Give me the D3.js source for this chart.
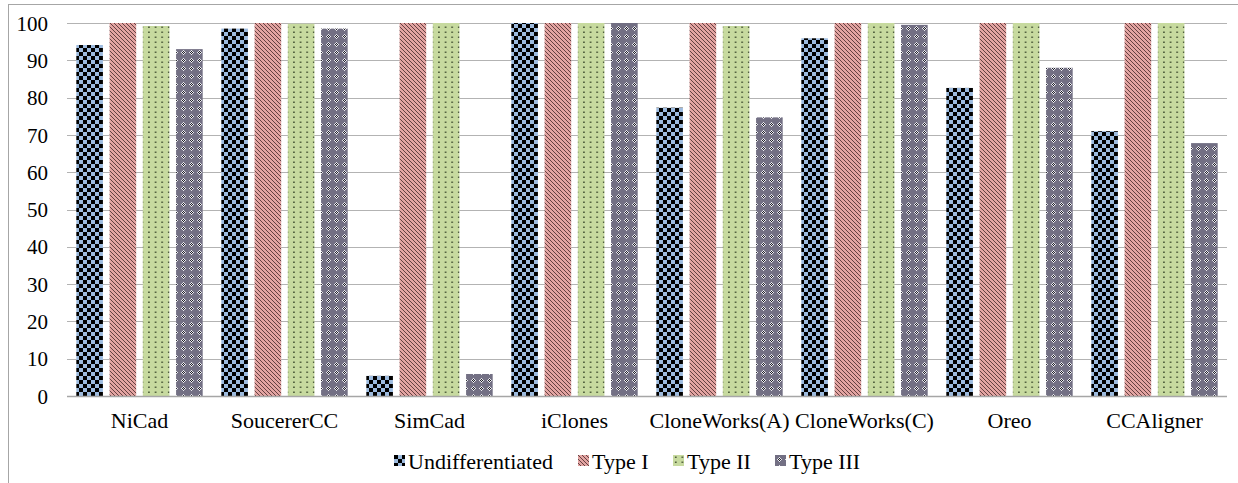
<!DOCTYPE html>
<html>
<head>
<meta charset="utf-8">
<script src="https://cdn.jsdelivr.net/npm/d3@7"></script>
<style>
  html, body { margin: 0; padding: 0; background: #fff; }
  #chart, #chart text { font-family: "Liberation Serif", "Times New Roman", Times, serif; }
  #chart text { fill: #000; }
</style>
</head>
<body>
<svg id="chart" width="1238" height="483"></svg>
<script>
// Detection rates (%) per tool and clone type
const tools = ["NiCad", "SoucererCC", "SimCad", "iClones", "CloneWorks(A)", "CloneWorks(C)", "Oreo", "CCAligner"];
const seriesNames = ["Undifferentiated", "Type I", "Type II", "Type III"];
const undifferentiated = [94.1, 98.5, 5.4, 100, 77.3, 95.9, 82.6, 71.0];
const typeI = [100, 100, 100, 100, 100, 100, 100, 100];
const typeII = [99.2, 99.8, 100, 100, 99.2, 100, 100, 100];
const typeIII = [93.0, 98.5, 5.9, 100, 74.7, 99.5, 88.0, 67.8];
const yTicks = [0, 10, 20, 30, 40, 50, 60, 70, 80, 90, 100];

const seriesValues = [undifferentiated, typeI, typeII, typeIII];
const patternIds = ["pat-undiff", "pat-type1", "pat-type2", "pat-type3"];

const svg = d3.select("#chart");
const W = 1238, H = 483;
const plot = { left: 67, right: 1227, top: 23, bottom: 396 };

// ---- fill patterns ----
const defs = svg.append("defs");

// checkerboard: black on light blue
const p0 = defs.append("pattern").attr("id", patternIds[0])
  .attr("patternUnits", "userSpaceOnUse").attr("width", 8).attr("height", 8);
p0.append("rect").attr("width", 8).attr("height", 8).attr("fill", "#9dbbdf");
p0.append("rect").attr("x", 0).attr("y", 0).attr("width", 4).attr("height", 4).attr("fill", "#000");
p0.append("rect").attr("x", 4).attr("y", 4).attr("width", 4).attr("height", 4).attr("fill", "#000");

// dark downward diagonals on rose
const p1 = defs.append("pattern").attr("id", patternIds[1])
  .attr("patternUnits", "userSpaceOnUse").attr("width", 4).attr("height", 4);
p1.append("rect").attr("width", 4).attr("height", 4).attr("fill", "#e3a4a2");
p1.append("path").attr("d", "M-1,-1 L5,5 M-1,3 L1,5 M3,-1 L5,1")
  .attr("stroke", "#3a2020").attr("stroke-width", 0.75).attr("fill", "none");

// sparse dark dots on light green
const p2 = defs.append("pattern").attr("id", patternIds[2])
  .attr("patternUnits", "userSpaceOnUse").attr("width", 6.6).attr("height", 5);
p2.append("rect").attr("width", 6.6).attr("height", 5).attr("fill", "#c7da9f");
p2.append("rect").attr("x", 2).attr("y", 1.5).attr("width", 1.5).attr("height", 1.5).attr("fill", "#3c4a2c");

// small white/black diamonds on grey-violet
const p3 = defs.append("pattern").attr("id", patternIds[3])
  .attr("patternUnits", "userSpaceOnUse").attr("width", 8).attr("height", 8);
p3.append("rect").attr("width", 8).attr("height", 8).attr("fill", "#737084");
for (let yy = 0; yy < 8; yy++) {
  for (let xx = 0; xx < 8; xx++) {
    const d = Math.abs(xx - 4) + Math.abs(yy - 4);
    if (d <= 2) {
      p3.append("rect").attr("x", xx).attr("y", yy).attr("width", 1).attr("height", 1)
        .attr("fill", (xx + yy) % 2 === 0 ? "#e8e8ee" : "#1c1c24");
    }
  }
}

// ---- chart frame ----
svg.append("line").attr("x1", 8).attr("x2", W).attr("y1", 4.5).attr("y2", 4.5)
  .attr("stroke", "#a6a6a6").attr("stroke-width", 1);
svg.append("line").attr("x1", 8.5).attr("x2", 8.5).attr("y1", 4).attr("y2", H)
  .attr("stroke", "#a6a6a6").attr("stroke-width", 1);

// ---- scales ----
const x = d3.scaleBand().domain(tools).range([plot.left, plot.right]).padding(0);
const xs = d3.scaleBand().domain(seriesNames).range([0, x.bandwidth()])
  .paddingInner(0.2).paddingOuter(0.28);
const y = d3.scaleLinear().domain([0, 100]).range([plot.bottom, plot.top]);

// ---- gridlines ----
svg.append("g").selectAll("line").data(yTicks.filter(t => t > 0)).join("line")
  .attr("x1", plot.left).attr("x2", plot.right)
  .attr("y1", d => Math.round(y(d)) + 0.5).attr("y2", d => Math.round(y(d)) + 0.5)
  .attr("stroke", "#b3b3b3").attr("stroke-width", 1);

// ---- y axis labels ----
const yAxis = d3.axisLeft(y).tickValues(yTicks).tickSize(0).tickPadding(19);
const gy = svg.append("g").attr("transform", `translate(${plot.left},0)`).call(yAxis)
  .attr("font-family", null).attr("font-size", null);
gy.select(".domain").remove();
gy.selectAll("text").style("font-size", "21px").attr("dy", "0.34em");

// ---- bars ----
const groups = svg.append("g").selectAll("g").data(tools).join("g")
  .attr("transform", d => `translate(${x(d)},0)`);
groups.selectAll("rect")
  .data((d, i) => seriesNames.map((s, k) => ({ s, k, v: seriesValues[k][i] })))
  .join("rect")
  .attr("x", d => xs(d.s))
  .attr("width", xs.bandwidth())
  .attr("y", d => y(d.v))
  .attr("height", d => y(0) - y(d.v))
  .attr("fill", d => `url(#${patternIds[d.k]})`);

// ---- x axis ----
const xAxis = d3.axisBottom(x).tickSize(0).tickPadding(16);
const gx = svg.append("g").attr("transform", `translate(0,${plot.bottom})`).call(xAxis)
  .attr("font-family", null).attr("font-size", null);
gx.select(".domain").attr("stroke", "#a6a6a6").attr("stroke-width", 1.5)
  .attr("d", `M${plot.left},0.5H${plot.right}`);
gx.selectAll("text").style("font-size", "22px");

// ---- legend ----
const legendX = [394, 578, 673, 775];
const legend = svg.append("g").selectAll("g").data(seriesNames).join("g")
  .attr("transform", (d, i) => `translate(${legendX[i]},455)`);
legend.append("rect").attr("width", 11).attr("height", 11)
  .attr("fill", (d, i) => `url(#${patternIds[i]})`);
legend.append("text").attr("x", 14).attr("y", 13.5)
  .style("font-size", "22px").text(d => d);
</script>
</body>
</html>
